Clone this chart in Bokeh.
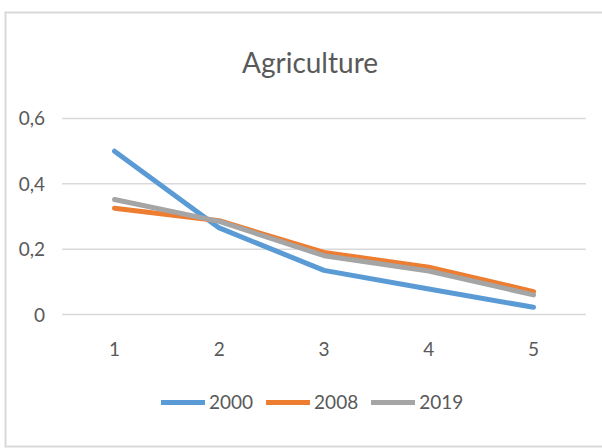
from bokeh.plotting import figure
from bokeh.models import Legend, LegendItem, Range1d, Span
from bokeh.core.properties import value
from bokeh.embed import file_html
from bokeh.resources import INLINE

categories = [1, 2, 3, 4, 5]
y_ticks = [0, 0.2, 0.4, 0.6]
y_tick_labels = ["0", "0,2", "0,4", "0,6"]
x_tick_labels = ["1", "2", "3", "4", "5"]
series_names = ["2000", "2008", "2019"]
s2000 = [0.50, 0.265, 0.135, 0.078, 0.022]
s2008 = [0.325, 0.287, 0.190, 0.145, 0.070]
s2019 = [0.352, 0.285, 0.180, 0.133, 0.060]
title_text = "Agriculture"
colors = ["#5B9BD5", "#ED7D31", "#A5A5A5"]

W, H = 602, 448
# frame = the chart's bordered box; the plot area (0.5..5.5, 0..0.6) sits inside it
xr = Range1d(-0.0501, 5.6587)
yr = Range1d(-0.4071, 0.9275)
p = figure(width=W, height=H, output_backend="svg", toolbar_location=None,
           x_range=xr, y_range=yr,
           min_border_left=4, min_border_right=0, min_border_top=11, min_border_bottom=1)
p.axis.visible = False
p.grid.visible = False
p.outline_line_color = None
p.background_fill_color = "white"
p.border_fill_color = "white"

FONT = value("Lato")
TXT = "#595959"
BORDER = "#D9D9D9"

# chart border (left, top, bottom; the right edge lies outside the picture)
p.add_layout(Span(location=xr.start, dimension="height", line_color=BORDER, line_width=4))
p.add_layout(Span(location=yr.end, dimension="width", line_color=BORDER, line_width=4))
p.add_layout(Span(location=yr.start, dimension="width", line_color=BORDER, line_width=4))

# gridlines across the plot area
p.segment(x0=[categories[0] - 0.5] * len(y_ticks), x1=[categories[-1] + 0.5] * len(y_ticks),
          y0=y_ticks, y1=y_ticks, line_color=BORDER, line_width=1.5)

# tick labels
p.text(x=[categories[0] - 0.5] * len(y_ticks), y=y_ticks, text=y_tick_labels, x_offset=-17,
       text_align="right", text_baseline="middle", text_font=FONT,
       text_font_size="19px", text_color=TXT)
p.text(x=categories, y=[0] * len(categories), text=x_tick_labels, y_offset=34,
       text_align="center", text_baseline="middle", text_font=FONT,
       text_font_size="19px", text_color=TXT)

# title
p.text(x=[(categories[0] + categories[-1]) / 2], y=[y_ticks[-1]], text=[title_text],
       x_offset=-14, y_offset=-56, text_align="center", text_baseline="middle",
       text_font=FONT, text_font_size="28px", text_color=TXT)

renderers = []
for name, vals, c in zip(series_names, [s2000, s2008, s2019], colors):
    r = p.line(categories, vals, line_color=c, line_width=5, line_cap="round", line_join="round")
    renderers.append(r)

legend = Legend(items=[LegendItem(label=n, renderers=[r]) for n, r in zip(series_names, renderers)],
                orientation="horizontal", location=(157, 34),
                glyph_width=44, glyph_height=20, label_height=20, label_standoff=4, spacing=13,
                padding=0, margin=0, border_line_color=None, background_fill_alpha=0,
                label_text_font="Lato", label_text_font_size="19px", label_text_color=TXT)
p.add_layout(legend, "center")

open("out.html", "w").write(file_html(p, INLINE))
